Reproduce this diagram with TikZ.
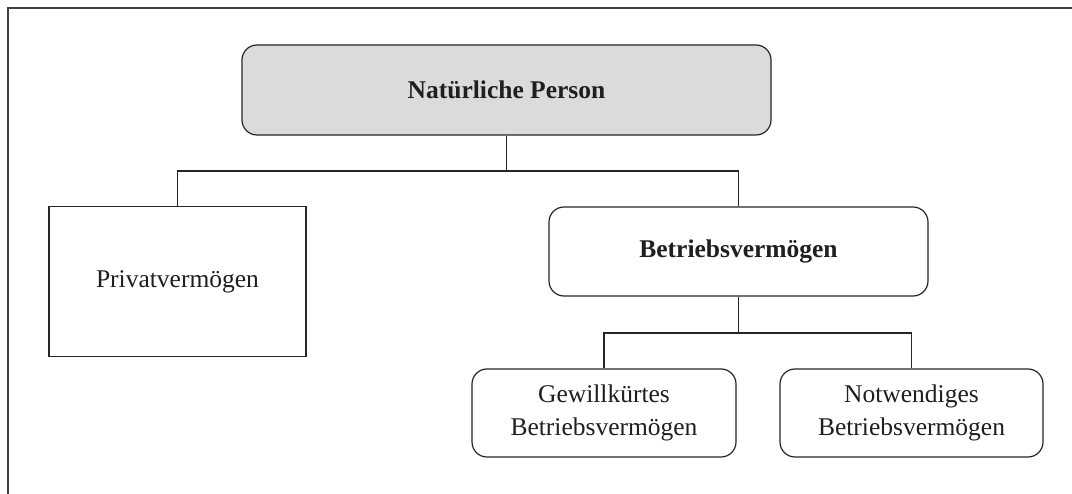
\documentclass[tikz,border=0pt]{standalone}
\usepackage{fontspec}
\setmainfont{Liberation Serif}
\begin{document}
\begin{tikzpicture}[x=1pt,y=-1pt,
  txt/.style={font=\fontsize{25.5}{33}\selectfont, text=black!88, align=center, inner sep=0pt},
  boxsharp/.style={txt, draw=black!85, line width=1.2pt, rectangle},
  boxround/.style={txt, draw=black!85, line width=1.2pt, rectangle, rounded corners=15pt},
  conn/.style={draw=black!85, line width=1.2pt}
]
\useasboundingbox (0,0) rectangle (1072,494);
\fill[white] (0,0) rectangle (1072,494);
\draw[draw=black!75, line width=2pt] (8,494) -- (8,8) -- (1072,8);

\node[boxround, fill=black!14, minimum width=529pt, minimum height=90pt, font=\fontsize{25.5}{33}\selectfont\bfseries] (top) at (506.5,90) {Natürliche Person};
\node[boxsharp, minimum width=257pt, minimum height=150pt] (priv) at (177.5,281.5) {Privatvermögen};
\node[boxround, minimum width=379pt, minimum height=89pt, font=\fontsize{25.5}{33}\selectfont\bfseries] (betr) at (738.5,251.5) {Betriebsvermögen};
\node[boxround, minimum width=264pt, minimum height=88pt] (gew) at (604,413) {Gewillkürtes\\Betriebsvermögen};
\node[boxround, minimum width=263pt, minimum height=88pt] (notw) at (911.5,413) {Notwendiges\\Betriebsvermögen};

\coordinate (j1) at (506.5,171);
\coordinate (j2) at (738.5,333);
\draw[conn] (top.south) -- (j1);
\draw[conn] (j1) -| (priv.north);
\draw[conn] (j1) -| (betr.north);
\draw[conn] (betr.south) -- (j2);
\draw[conn] (j2) -| (gew.north);
\draw[conn] (j2) -| (notw.north);
\end{tikzpicture}
\end{document}
